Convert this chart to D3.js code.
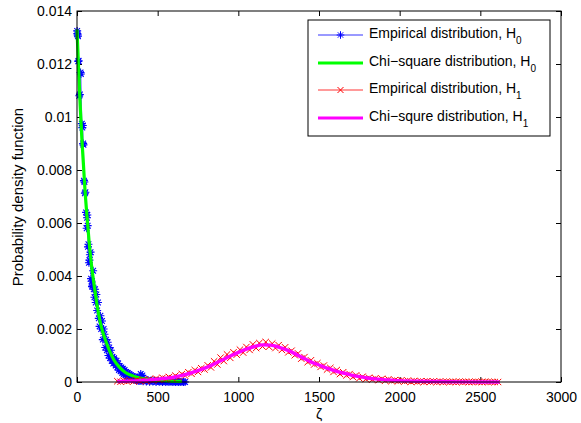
<!DOCTYPE html>
<html><head><meta charset="utf-8">
<script src="https://cdn.jsdelivr.net/npm/d3@7"></script>
<style>
body{margin:0;background:#fff}
text{font-family:"Liberation Sans",Arial,Helvetica,sans-serif;fill:#000}
</style>
</head><body>
<svg id="chart" width="581" height="423"></svg>
<script>
// ---------- data ----------
const xTicks = [0, 500, 1000, 1500, 2000, 2500, 3000];
const xTickLabels = ["0", "500", "1000", "1500", "2000", "2500", "3000"];
const yTicks = [0, 0.002, 0.004, 0.006, 0.008, 0.01, 0.012, 0.014];
const yTickLabels = ["0", "0.002", "0.004", "0.006", "0.008", "0.01", "0.012", "0.014"];
const xLabel = "ζ";
const yLabel = "Probability density function";

// Empirical distribution, H0: [zeta, pdf]
const empiricalH0 = [
  [1,0.01325],[2,0.01315],[4,0.0131],[6,0.01305],[8,0.0121],[10,0.01212],[14,0.0108],[18,0.01085],
  [22,0.01168],[24,0.01162],[30,0.00975],[33,0.0096],[36,0.00968],[38,0.009],[40,0.00895],[43,0.0076],
  [46,0.00755],[49,0.00712],[52,0.00716],[56,0.0064],[60,0.0058],[62,0.0062],[64,0.0063],[66,0.0059],
  [68,0.0051],[71,0.0052],[74,0.0045],[77,0.0046],[80,0.0048],[84,0.0049],[87,0.0039],[90,0.0038],
  [93,0.0036],[96,0.00365],[100,0.0042],[104,0.0035],[108,0.0032],[112,0.0035],[116,0.003],[120,0.0033],
  [125,0.0027],[130,0.003],[135,0.0024],[140,0.0021],[145,0.0025],[150,0.002],[155,0.0023],[160,0.0016],
  [165,0.002],[170,0.0018],[175,0.0013],[180,0.0016],[185,0.0012],[190,0.0015],[195,0.001],[200,0.0013],
  [205,0.0009],[210,0.0012],[215,0.0008],[220,0.00095],[225,0.0007],[230,0.0009],[240,0.00062],[245,0.0008],
  [250,0.00055],[255,0.0007],[260,0.00045],[265,0.0006],[270,0.0004],[275,0.00055],[280,0.00035],[285,0.0005],
  [290,0.0003],[295,0.00045],[300,0.00026],[305,0.00038],[310,0.00022],[315,0.00034],[320,0.00018],[325,0.0003],
  [330,0.00015],[335,0.00026],[340,0.00012],[345,0.00022],[350,0.0001],[355,0.00019],[360,0.00008],[365,0.00017],
  [370,0.00006],[375,0.00015],[380,0.00005],[385,0.00013],[390,0.00004],[395,0.0003],[400,0.00006],[405,0.00025],
  [410,0.00003],[420,0.0001],[430,0.00002],[440,0.00008],[450,0.00001],[460,0.00006],[470,0.00002],[480,0.00005],
  [490,0],[500,0.00004],[510,0.00001],[520,0.00003],[530,0],[540,0.00003],[550,0],[560,0.00002],
  [570,0],[580,0.00002],[590,0],[600,0.00001],[610,0],[620,0.00001],[630,0],[640,0],[650,0.00001],[660,0],[670,0]
];

// Chi-square distribution, H0
const chiSquareH0 = [
  [0,0.0133],[10,0.0118],[20,0.0104],[30,0.0092],[40,0.0082],[50,0.0072],[60,0.0064],[75,0.0053],
  [90,0.0044],[110,0.0035],[130,0.0027],[150,0.0021],[175,0.0016],[200,0.0012],[230,0.00082],[260,0.00058],
  [300,0.00036],[350,0.00022],[400,0.00014],[450,0.0001],[500,0.00007],[550,0.00005],[600,0.00003],[650,0.00002]
];

// Empirical distribution, H1
const empiricalH1 = [
  [250,0.00003],[270,0.00001],[290,0.00005],[310,0.00002],[330,0.00006],[350,0.00002],[370,0.00007],[390,0.00004],
  [410,0.00008],[430,0.00003],[450,0.0001],[470,0.00006],[490,0.00013],[510,0.00008],[530,0.00016],[550,0.00012],
  [570,0.00019],[590,0.00014],[610,0.00024],[630,0.00018],[650,0.0003],[670,0.00024],[690,0.00037],[710,0.00031],
  [730,0.00045],[750,0.00038],[770,0.00052],[790,0.00047],[810,0.00063],[830,0.00055],[850,0.00078],[870,0.00066],
  [890,0.00092],[910,0.00079],[930,0.00104],[950,0.00091],[970,0.00112],[990,0.00103],[1010,0.00122],[1030,0.00111],
  [1050,0.00132],[1070,0.00121],[1090,0.00142],[1110,0.00128],[1130,0.00147],[1150,0.00134],[1170,0.00151],[1190,0.00133],
  [1210,0.00145],[1230,0.00128],[1250,0.00139],[1270,0.00121],[1290,0.00131],[1310,0.00112],[1330,0.00118],[1350,0.00101],
  [1370,0.00108],[1390,0.00088],[1410,0.00094],[1430,0.00075],[1450,0.00082],[1470,0.00066],[1490,0.00071],[1510,0.00057],
  [1530,0.00062],[1550,0.00047],[1570,0.00053],[1590,0.00038],[1610,0.00045],[1630,0.0003],[1650,0.00037],[1670,0.00025],
  [1690,0.0003],[1710,0.00019],[1730,0.00025],[1750,0.00014],[1770,0.0002],[1790,0.00011],[1810,0.00016],[1830,0.00009],
  [1850,0.00014],[1870,0.00007],[1890,0.00012],[1910,0.00005],[1930,0.0001],[1950,0.00004],[1970,0.00007],[1990,0.00003],
  [2010,0.00006],[2030,0.00002],[2050,0.00005],[2070,0.00001],[2090,0.00004],[2110,0.00001],[2130,0.00003],[2150,0],
  [2170,0.00003],[2190,0.00001],[2210,0.00002],[2230,0],[2250,0.00002],[2270,0],[2290,0.00001],[2310,0],
  [2330,0.00001],[2350,0],[2370,0.00001],[2390,0],[2410,0.00001],[2430,0],[2450,0],[2470,0.00001],
  [2490,0],[2510,0],[2530,0.00001],[2550,0],[2570,0],[2590,0],[2610,0]
];

// Chi-square distribution, H1
const chiSquareH1 = [
  [250,0.00002],[300,0.00003],[350,0.00004],[400,0.00006],[450,0.00008],[500,0.00011],[550,0.00014],[600,0.00018],
  [650,0.00025],[700,0.00033],[750,0.00043],[800,0.00054],[850,0.00068],[900,0.00083],[950,0.00098],[1000,0.00112],
  [1050,0.00124],[1100,0.00134],[1150,0.0014],[1200,0.00139],[1250,0.00132],[1300,0.00121],[1350,0.00107],[1400,0.00091],
  [1450,0.00076],[1500,0.00064],[1550,0.00052],[1600,0.00042],[1650,0.00034],[1700,0.00026],[1750,0.0002],[1800,0.00015],
  [1850,0.00012],[1900,0.00009],[1950,0.00007],[2000,0.00005],[2100,0.00003],[2200,0.00002],[2300,0.00001],[2400,0.000005],
  [2500,0],[2620,0]
];

const legendLabels = [
  ["Empirical distribution, H", "0"],
  ["Chi\u2212square distribution, H", "0"],
  ["Empirical distribution, H", "1"],
  ["Chi\u2212squre distribution, H", "1"]
];

// ---------- drawing ----------
const svg = d3.select("#chart");
const L = 77, R = 561, T = 11, B = 382;
const x = d3.scaleLinear().domain([0, 3000]).range([L, R]);
const y = d3.scaleLinear().domain([0, 0.014]).range([B, T]);

const line = d3.line().x(d => x(d[0])).y(d => y(d[1]));

const asterisk = (s) => {
  const a = s * 0.7071;
  return `M${-s},0L${s},0M0,${-s}L0,${s}M${-a},${-a}L${a},${a}M${-a},${a}L${a},${-a}`;
};
const cross = (s) => `M${-s},${-s}L${s},${s}M${-s},${s}L${s},${-s}`;

// axes
const fmtX = (d) => xTickLabels[xTicks.indexOf(d)];
const fmtY = (d) => yTickLabels[yTicks.indexOf(d)];

const gx = svg.append("g").attr("transform", `translate(0,${B})`)
  .call(d3.axisBottom(x).tickValues(xTicks).tickFormat(fmtX).tickSizeInner(-5).tickSizeOuter(0).tickPadding(10));
const gxt = svg.append("g").attr("transform", `translate(0,${T})`)
  .call(d3.axisTop(x).tickValues(xTicks).tickFormat("").tickSizeInner(-5).tickSizeOuter(0));
const gy = svg.append("g").attr("transform", `translate(${L},0)`)
  .call(d3.axisLeft(y).tickValues(yTicks).tickFormat(fmtY).tickSizeInner(-5).tickSizeOuter(0).tickPadding(5));
const gyr = svg.append("g").attr("transform", `translate(${R},0)`)
  .call(d3.axisRight(y).tickValues(yTicks).tickFormat("").tickSizeInner(-5).tickSizeOuter(0));
[gx, gxt, gy, gyr].forEach(g => {
  g.select(".domain").remove();
  g.selectAll(".tick line").attr("stroke", "#000").attr("stroke-width", 1);
  g.selectAll(".tick text").style("font-size", "14px").attr("fill", "#000")
    .style("font-family", '"Liberation Sans", Arial, sans-serif');
});

// series
const plot = svg.append("g");
// empirical H0
plot.append("path").datum(empiricalH0).attr("d", line)
  .attr("fill", "none").attr("stroke", "#0000ff").attr("stroke-width", 0.6);
plot.append("g").selectAll("path").data(empiricalH0).join("path")
  .attr("transform", d => `translate(${x(d[0])},${y(d[1])})`)
  .attr("d", asterisk(4)).attr("fill", "none").attr("stroke", "#0000ff").attr("stroke-width", 1.1);
// chi-square H0
plot.append("path").datum(chiSquareH0).attr("d", line.curve(d3.curveMonotoneX))
  .attr("fill", "none").attr("stroke", "#00ff00").attr("stroke-width", 3.2).attr("stroke-linejoin", "round");
line.curve(d3.curveLinear);
// empirical H1
plot.append("path").datum(empiricalH1).attr("d", line)
  .attr("fill", "none").attr("stroke", "#ff0000").attr("stroke-width", 0.6);
plot.append("g").selectAll("path").data(empiricalH1).join("path")
  .attr("transform", d => `translate(${x(d[0])},${y(d[1])})`)
  .attr("d", cross(3.2)).attr("fill", "none").attr("stroke", "#ff0000").attr("stroke-width", 1);
// chi-square H1
plot.append("path").datum(chiSquareH1).attr("d", line.curve(d3.curveMonotoneX))
  .attr("fill", "none").attr("stroke", "#ff00ff").attr("stroke-width", 3.4).attr("stroke-linejoin", "round");

// frame
svg.append("rect").attr("x", L).attr("y", T).attr("width", R - L).attr("height", B - T)
  .attr("fill", "none").attr("stroke", "#000").attr("stroke-width", 1);

// labels
svg.append("text").attr("x", (L + R) / 2).attr("y", 419).attr("text-anchor", "middle")
  .style("font-size", "14px").text(xLabel);
svg.append("text").attr("transform", `translate(23,197) rotate(-90)`)
  .attr("text-anchor", "middle").style("font-size", "15px").text(yLabel);

// legend
const lg = svg.append("g");
lg.append("rect").attr("x", 308).attr("y", 20).attr("width", 242).attr("height", 116)
  .attr("fill", "#fff").attr("stroke", "#000").attr("stroke-width", 1);
const rowsY = [35, 63, 90, 118];
const styles = [
  {c: "#0000ff", w: 0.8, m: asterisk(3.8)},
  {c: "#00ff00", w: 3.2, m: null},
  {c: "#ff0000", w: 0.8, m: cross(3)},
  {c: "#ff00ff", w: 3.2, m: null}
];
legendLabels.forEach((lab, i) => {
  const yy = rowsY[i], s = styles[i];
  lg.append("line").attr("x1", 318).attr("x2", 363).attr("y1", yy).attr("y2", yy)
    .attr("stroke", s.c).attr("stroke-width", s.w);
  if (s.m) lg.append("path").attr("transform", `translate(340.5,${yy})`).attr("d", s.m)
    .attr("fill", "none").attr("stroke", s.c).attr("stroke-width", 1);
  const t = lg.append("text").attr("x", 369).attr("y", yy + 3).style("font-size", "14px");
  t.append("tspan").text(lab[0]);
  t.append("tspan").attr("dy", 6).style("font-size", "10px").text(lab[1]);
});
</script>
</body></html>
